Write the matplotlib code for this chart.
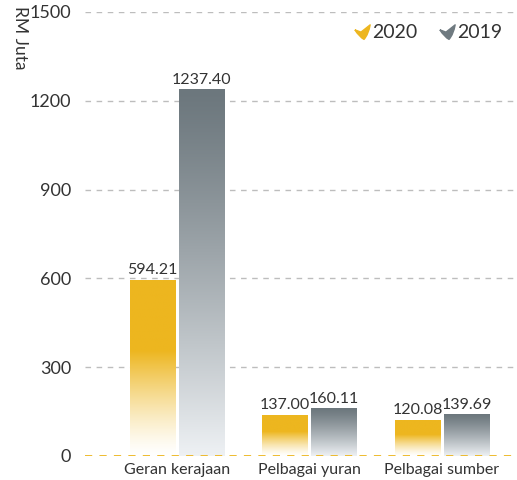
import numpy as np
import matplotlib
matplotlib.use("Agg")
import matplotlib.pyplot as plt
from matplotlib.path import Path
from matplotlib.colors import to_rgb

plt.rcParams["font.family"] = ["Lato", "DejaVu Sans"]

categories = ["Geran kerajaan", "Pelbagai yuran", "Pelbagai sumber"]
vals_2020 = [594.21, 137.00, 120.08]
vals_2019 = [1237.40, 160.11, 139.69]
yticks = [0, 300, 600, 900, 1200, 1500]

YELLOW = "#edb61f"
GRAY_TOP = "#6c777d"
GRAY_BOT = "#eef1f4"
TXT = "#333333"

fig = plt.figure(figsize=(5.17, 4.8), dpi=100)
ax = fig.add_axes([85 / 517, 1 - 456 / 480, 1 - 85 / 517, 444 / 480])

W = 0.34
OFF = 0.185
x = np.arange(len(categories))


def yellow_grad(n=200):
    # top 40% solid, then fades to white towards the base
    t = np.linspace(0, 1, n)  # 0 = top
    a = np.clip((1 - t) / 0.6, 0, 1) ** 1.3
    rgb = np.array(to_rgb(YELLOW))
    img = np.ones((n, 1, 3)) * (1 - a)[:, None, None] + rgb[None, None, :] * a[:, None, None]
    return img


def gray_grad(n=200):
    t = np.linspace(0, 1, n)[:, None, None] ** 1.2
    c0 = np.array(to_rgb(GRAY_TOP))
    c1 = np.array(to_rgb(GRAY_BOT))
    return c0 * (1 - t) + c1 * t


for xi, v1, v2 in zip(x, vals_2020, vals_2019):
    x0 = xi - OFF - W / 2
    ax.imshow(yellow_grad(), extent=(x0, x0 + W, 0, v1), aspect="auto",
              origin="upper", zorder=2, interpolation="bilinear")
    x1 = xi + OFF - W / 2
    ax.imshow(gray_grad(), extent=(x1, x1 + W, 0, v2), aspect="auto",
              origin="upper", zorder=2, interpolation="bilinear")
    ax.text(xi - OFF, v1 + 10, f"{v1:.2f}", ha="center", va="bottom",
            fontsize=11.5, color=TXT)
    ax.text(xi + OFF, v2 + 10, f"{v2:.2f}", ha="center", va="bottom",
            fontsize=11.5, color=TXT)

# grid lines
for yv in yticks[1:]:
    ax.axhline(yv, color="#bdbdbd", lw=1, ls=(0, (4, 4)), zorder=1)
ax.axhline(0, color=YELLOW, lw=1.3, ls=(0, (4, 4)), zorder=3)

ax.set_xlim(-0.694, 2.566)
ax.set_ylim(0, 1500)
ax.set_yticks(yticks)
ax.set_yticklabels([str(t) for t in yticks], fontsize=13, color=TXT)
ax.set_xticks(x)
ax.set_xticklabels(categories, fontsize=11.5, color=TXT)
ax.tick_params(axis="y", length=0, pad=10)
ax.tick_params(axis="x", length=0, pad=5)
for s in ax.spines.values():
    s.set_visible(False)

fig.text(20 / 517, 1 - 6 / 480, "RM Juta", rotation=270, ha="center",
         va="top", fontsize=12.5, color=TXT)

# legend with wing-shaped markers
wing = Path([(-1.0, 0.35), (-0.2, 0.05), (1.0, 1.0), (0.8, -0.2),
             (0.2, -0.9), (-0.4, -0.6), (-1.0, 0.35)],
            [Path.MOVETO, Path.LINETO, Path.LINETO, Path.CURVE3,
             Path.CURVE3, Path.CURVE3, Path.CURVE3])
for mx, col, lab, tx in [(362, YELLOW, "2020", 372), (447, "#6f7a80", "2019", 457)]:
    fig.lines.append(plt.Line2D([mx / 517], [1 - 32 / 480], marker=wing,
                                markersize=11, color=col, ls="none",
                                transform=fig.transFigure))
    fig.text(tx / 517, 1 - 33 / 480, lab, ha="left", va="center",
             fontsize=14, color=TXT)

fig.savefig("out.png", dpi=100, facecolor="white")
